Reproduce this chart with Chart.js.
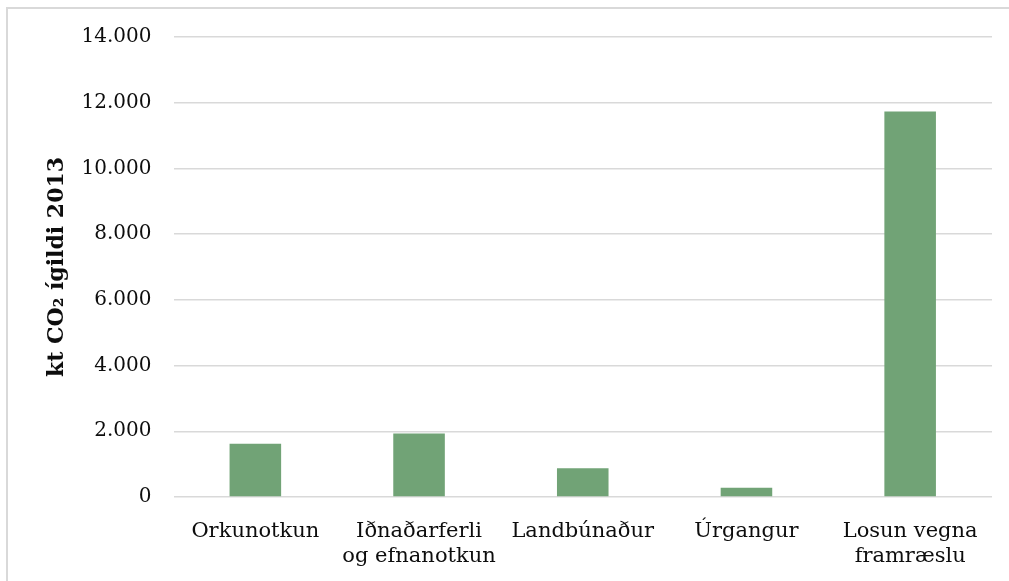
<!DOCTYPE html>
<html>
<head>
<meta charset="utf-8">
<script src="https://cdn.jsdelivr.net/npm/chart.js@4"></script>
<style>
  html, body { margin: 0; padding: 0; background: #fff; overflow: hidden; }
</style>
</head>
<body>
<canvas id="barChart" width="1009" height="581"></canvas>
<script>
const categories = ['Orkunotkun', ['Iðnaðarferli', 'og efnanotkun'], 'Landbúnaður', 'Úrgangur', ['Losun vegna', 'framræslu']];
const emissions = [1622, 1936, 878, 280, 11732];
const yTicks = [0, 2000, 4000, 6000, 8000, 10000, 12000, 14000];

function dotThousands(v) {
    return String(v).replace(/\B(?=(\d{3})+(?!\d))/g, '.');
}

// light grey outline of the chart box (only top and left edges are in view)
const frameLines = {
    id: 'frameLines',
    beforeDraw(chart) {
        const c = chart.ctx;
        c.save();
        c.strokeStyle = '#d9d9d9';
        c.lineWidth = 2;
        c.beginPath();
        c.moveTo(7, chart.height);
        c.lineTo(7, 8);
        c.lineTo(chart.width, 8);
        c.stroke();
        c.restore();
    }
};

const ctx = document.getElementById('barChart').getContext('2d');
const myChart = new Chart(ctx, {
    type: 'bar',
    data: {
        labels: categories,
        datasets: [{
            label: 'kt CO2 ígildi 2013',
            data: emissions,
            backgroundColor: '#71a376',
            borderWidth: 0,
            categoryPercentage: 1,
            barPercentage: 0.315
        }]
    },
    options: {
        responsive: false,
        animation: false,
        layout: { padding: { left: 0, right: 17, top: 37, bottom: 0 } },
        plugins: {
            legend: { display: false },
            tooltip: { enabled: false }
        },
        scales: {
            x: {
                grid: { display: false },
                border: { display: false },
                ticks: {
                    color: '#0d0d0d',
                    font: { family: 'DejaVu Serif', size: 21 },
                    padding: 14,
                    maxRotation: 0,
                    autoSkip: false
                },
                afterFit: function (scale) { scale.height = 84; }
            },
            y: {
                min: 0,
                max: 14000,
                afterBuildTicks: function (scale) {
                    scale.ticks = yTicks.map(v => ({ value: v }));
                },
                grid: { color: '#d9d9d9', lineWidth: 1.5, drawTicks: false },
                border: { display: false },
                ticks: {
                    color: '#0d0d0d',
                    font: { family: 'DejaVu Serif', size: 20 },
                    padding: 22,
                    callback: function (v) { return dotThousands(v); }
                },
                title: {
                    display: true,
                    text: 'kt CO₂ ígildi 2013',
                    color: '#0d0d0d',
                    font: { family: 'DejaVu Serif', size: 22, weight: 'bold' },
                    padding: { top: 44, bottom: 0 }
                },
                afterFit: function (scale) { scale.width = 173.5; }
            }
        }
    },
    plugins: [frameLines]
});
</script>
</body>
</html>
